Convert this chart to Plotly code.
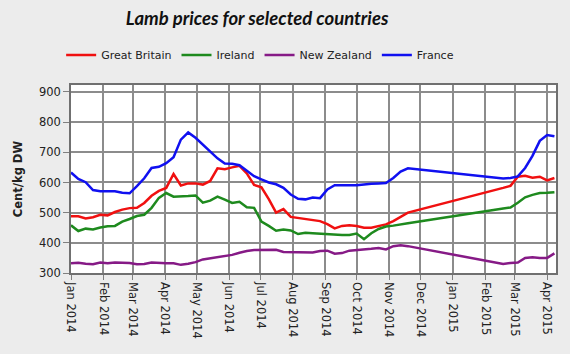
import datetime as dt
import plotly.graph_objects as go

# week indices (weeks from 2014-01-01); gap between Nov 2014 and late Feb 2015
week_idx = list(range(0, 47)) + list(range(59, 67))
dates = [dt.date(2014, 1, 1) + dt.timedelta(days=7 * k) for k in week_idx]

great_britain = [488, 488, 481, 485, 493, 491, 502, 510, 515, 516,
                 532, 556, 572, 582, 628, 590, 597, 597, 593, 605,
                 647, 644, 650, 655, 630, 592, 584, 545, 500, 512,
                 486, 482, 480, 475, 472, 462, 448, 456, 458, 456,
                 450, 450, 455, 461, 472, 485, 500,
                 582, 589, 619, 622, 616, 619, 607, 615]
ireland = [458, 439, 447, 444, 451, 455, 456, 470, 479, 489,
           493, 516, 549, 565, 553, 553, 555, 557, 533, 540,
           553, 543, 532, 536, 518, 516, 470, 456, 440, 444,
           441, 429, 433, 432, 430, 428, 426, 426, 426, 431,
           412, 432, 446, 454, 457, 462, 465,
           514, 517, 533, 551, 559, 565, 566, 568]
new_zealand = [332, 334, 331, 329, 335, 332, 335, 335, 333, 329,
               330, 335, 333, 332, 332, 327, 331, 336, 345, 349,
               352, 355, 360, 367, 373, 376, 377, 378, 377, 370,
               370, 368, 368, 368, 373, 374, 364, 366, 374, 376,
               376, 380, 383, 378, 389, 392, 389,
               330, 333, 335, 350, 352, 350, 350, 365]
france = [633, 612, 601, 575, 571, 571, 571, 566, 564, 588,
          614, 648, 652, 664, 684, 742, 766, 748, 726, 704,
          680, 663, 662, 657, 638, 621, 610, 600, 594, 582,
          560, 546, 544, 550, 548, 577, 591, 590, 591, 591,
          594, 596, 597, 598, 615, 636, 647,
          613, 615, 620, 648, 688, 738, 757, 753]

series = [("Great Britain", great_britain, "#f01010"),
          ("Ireland", ireland, "#1e8a1e"),
          ("New Zealand", new_zealand, "#861a86"),
          ("France", france, "#1010f0")]

fig = go.Figure()
for name, vals, col in series:
    fig.add_trace(go.Scatter(x=dates, y=vals, name=name, mode="lines",
                             line=dict(color=col, width=2.5)))

fig.update_layout(
    width=570, height=354,
    margin=dict(l=71, r=12, t=85, b=81),
    paper_bgcolor="#ececec", plot_bgcolor="#ffffff",
    font=dict(family="DejaVu Sans", size=11.5, color="#222222"),
    title=dict(text="<b><i>Lamb prices for selected countries</i></b>",
               x=0.451, xanchor="center", y=1 - 19 / 354, yanchor="middle",
               font=dict(family="Lato", size=18.5, color="#111111")),
    legend=dict(orientation="h", x=0.39, xanchor="center", y=1.16, yanchor="middle",
                font=dict(family="DejaVu Sans", size=11, color="#222222"),
                bgcolor="rgba(0,0,0,0)", itemwidth=30),
    showlegend=True,
)
fig.update_xaxes(
    type="date", range=["2014-01-01", "2015-04-09 12:00"],
    dtick="M1", tick0="2014-01-01", tickformat="%b %Y", tickangle=90,
    showgrid=True, gridcolor="#8c8c8c", gridwidth=1.5,
    ticks="outside", ticklen=5, tickcolor="#808080",
    showline=True, linecolor="#707070", linewidth=1.5, mirror=True,
    tickfont=dict(family="DejaVu Sans", size=11.5, color="#222222"),
)
fig.update_yaxes(
    range=[300, 923], tickvals=[300, 400, 500, 600, 700, 800, 900],
    showgrid=True, gridcolor="#8c8c8c", gridwidth=1.5,
    ticks="outside", ticklen=6, tickcolor="#808080",
    showline=True, linecolor="#707070", linewidth=1.5, mirror=True,
    tickfont=dict(family="DejaVu Sans", size=11.5, color="#222222"),
    zeroline=False,
)
fig.add_annotation(text="<b>Cent/kg DW</b>", textangle=-90, xref="paper", yref="paper",
                   x=-0.109, y=0.5, xanchor="center", yanchor="middle", showarrow=False,
                   font=dict(family="DejaVu Sans", size=11.5, color="#222222"))

fig.write_html("out.html")
